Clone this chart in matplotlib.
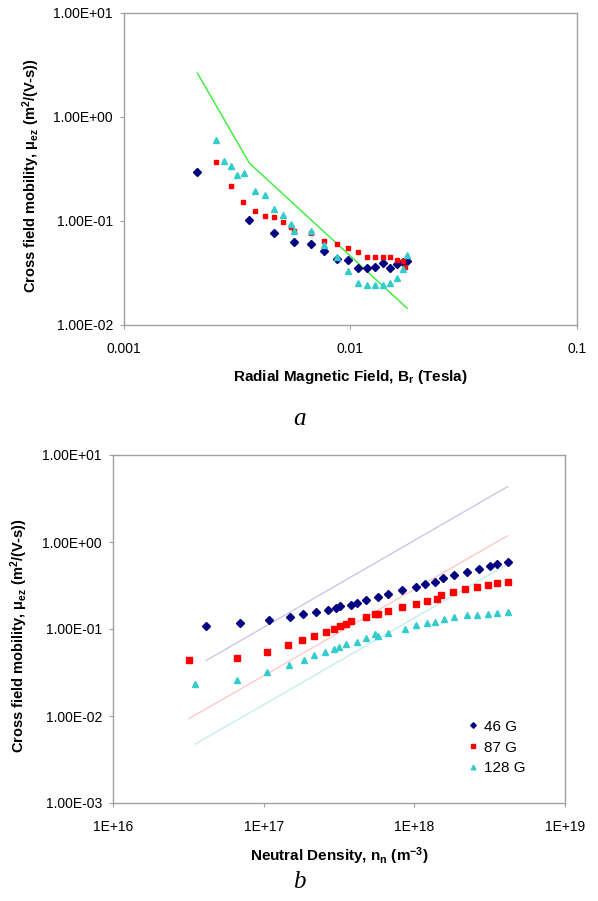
import matplotlib
matplotlib.use("Agg")
import matplotlib.pyplot as plt
from matplotlib.ticker import FixedLocator, FixedFormatter, NullLocator

plt.rcParams['font.family'] = ['Liberation Sans', 'DejaVu Sans']
plt.rcParams['mathtext.fontset'] = 'custom'
plt.rcParams['mathtext.rm'] = 'Liberation Sans'
plt.rcParams['mathtext.bf'] = 'Liberation Sans:bold'
plt.rcParams['mathtext.default'] = 'bf'

# ---------------- Panel a data ----------------
a_B_46 = [0.00211, 0.00358, 0.00461, 0.00565, 0.00668, 0.00767, 0.00874, 0.00976,
          0.0108, 0.0118, 0.0129, 0.0139, 0.0149, 0.0160, 0.0170, 0.01775]
a_mu_46 = [0.298, 0.1023, 0.0767, 0.0628, 0.0597, 0.0519, 0.0428, 0.0418,
           0.0356, 0.0351, 0.0358, 0.0395, 0.0356, 0.0387, 0.0401, 0.0412]

a_B_87 = [0.00255, 0.00296, 0.00337, 0.00379, 0.00419, 0.00461, 0.00504, 0.00544,
          0.00565, 0.00668, 0.00767, 0.00874, 0.00976, 0.0108, 0.0118, 0.0129,
          0.0139, 0.0149, 0.0160, 0.0170, 0.0175]
a_mu_87 = [0.364, 0.217, 0.152, 0.124, 0.1117, 0.109, 0.0984, 0.0881,
           0.0806, 0.0767, 0.0647, 0.0601, 0.0550, 0.0500, 0.0448, 0.0451,
           0.0451, 0.0451, 0.0422, 0.0415, 0.0364]

a_B_128 = [0.00255, 0.00277, 0.00296, 0.00317, 0.00338, 0.00380, 0.00421, 0.00461,
           0.00504, 0.00544, 0.00565, 0.00668, 0.00767, 0.00874, 0.00976, 0.0108,
           0.0118, 0.0129, 0.0139, 0.0149, 0.0160, 0.0170, 0.01775]
a_mu_128 = [0.601, 0.377, 0.338, 0.277, 0.288, 0.195, 0.177, 0.131,
            0.115, 0.0936, 0.0801, 0.0806, 0.0584, 0.0448, 0.0328, 0.0252,
            0.0240, 0.0240, 0.0244, 0.0252, 0.0285, 0.0348, 0.0468]

a_line_B = [0.00211, 0.00358, 0.01782]
a_line_mu = [2.63, 0.359, 0.01449]

# ---------------- Panel b data ----------------
b_n_46 = [4.14e16, 7.0e16, 1.08e17, 1.50e17, 1.82e17, 2.22e17, 2.66e17, 3.02e17,
          3.19e17, 3.79e17, 4.16e17, 4.80e17, 5.76e17, 6.71e17, 8.31e17, 1.03e18,
          1.18e18, 1.38e18, 1.54e18, 1.82e18, 2.23e18, 2.70e18, 3.16e18, 3.52e18, 4.16e18]
b_mu_46 = [0.109, 0.117, 0.128, 0.137, 0.147, 0.156, 0.166, 0.176,
           0.184, 0.190, 0.199, 0.217, 0.233, 0.251, 0.279, 0.304,
           0.327, 0.350, 0.386, 0.421, 0.456, 0.490, 0.526, 0.555, 0.594]

b_n_87 = [3.19e16, 6.68e16, 1.05e17, 1.44e17, 1.79e17, 2.17e17, 2.58e17, 2.94e17,
          3.19e17, 3.51e17, 3.81e17, 4.80e17, 5.45e17, 5.76e17, 6.71e17, 8.31e17,
          1.03e18, 1.21e18, 1.41e18, 1.50e18, 1.80e18, 2.17e18, 2.59e18, 3.06e18,
          3.52e18, 4.16e18]
b_mu_87 = [0.0436, 0.0461, 0.0548, 0.0650, 0.0742, 0.0838, 0.0917, 0.100,
           0.108, 0.115, 0.123, 0.136, 0.149, 0.149, 0.161, 0.180,
           0.195, 0.210, 0.223, 0.244, 0.264, 0.286, 0.306, 0.323,
           0.338, 0.350]

b_n_128 = [3.52e16, 6.68e16, 1.05e17, 1.47e17, 1.85e17, 2.17e17, 2.55e17, 2.92e17,
           3.18e17, 3.52e17, 4.16e17, 4.81e17, 5.45e17, 5.76e17, 6.71e17, 8.63e17,
           1.03e18, 1.21e18, 1.38e18, 1.57e18, 1.82e18, 2.23e18, 2.59e18, 3.06e18,
           3.52e18, 4.16e18]
b_mu_128 = [0.0235, 0.0259, 0.0323, 0.0389, 0.0441, 0.0499, 0.0545, 0.0585,
            0.0621, 0.0667, 0.0703, 0.0783, 0.0865, 0.0820, 0.0906, 0.100,
            0.110, 0.116, 0.120, 0.130, 0.138, 0.144, 0.146, 0.149,
            0.154, 0.157]

b_line_46_n = [4.14e16, 4.16e18]
b_line_46_mu = [0.0433, 4.33]
b_line_87_n = [3.19e16, 4.16e18]
b_line_87_mu = [0.00931, 1.18]
b_line_128_n = [3.52e16, 4.16e18]
b_line_128_mu = [0.00476, 0.555]

legend_labels = ["46 G", "87 G", "128 G"]

a_xticks = [0.001, 0.01, 0.1]
a_xticklabels = ["0.001", "0.01", "0.1"]
a_yticks = [0.01, 0.1, 1, 10]
a_yticklabels = ["1.00E-02", "1.00E-01", "1.00E+00", "1.00E+01"]
b_xticks = [1e16, 1e17, 1e18, 1e19]
b_xticklabels = ["1E+16", "1E+17", "1E+18", "1E+19"]
b_yticks = [1e-3, 1e-2, 1e-1, 1, 10]
b_yticklabels = ["1.00E-03", "1.00E-02", "1.00E-01", "1.00E+00", "1.00E+01"]

C_BLUE = "#000080"
C_RED = "#ff0000"
C_CYAN = "#33cccc"
C_GREEN = "#33ee33"
FRAME = "#a0a0a0"

W, H = 598, 901
fig = plt.figure(figsize=(W / 100, H / 100), dpi=100)

YLABEL = "Cross field mobility, \u03bc$_{ez}$ (m$^{2}$/(V-s))"


def style_axes(ax, xt, xtl, yt, ytl):
    ax.set_xscale('log')
    ax.set_yscale('log')
    ax.xaxis.set_major_locator(FixedLocator(xt))
    ax.xaxis.set_major_formatter(FixedFormatter(xtl))
    ax.yaxis.set_major_locator(FixedLocator(yt))
    ax.yaxis.set_major_formatter(FixedFormatter(ytl))
    ax.xaxis.set_minor_locator(NullLocator())
    ax.yaxis.set_minor_locator(NullLocator())
    for s in ax.spines.values():
        s.set_color(FRAME)
        s.set_linewidth(1.0)
    ax.tick_params(axis='both', which='major', direction='out', length=3,
                   width=0.8, color=FRAME, labelsize=10)
    ax.tick_params(axis='x', pad=9)
    ax.tick_params(axis='y', pad=5)


# ---------- Panel a ----------
h1 = 312.3
ax1 = fig.add_axes([124 / W, 1 - 325 / H, 452.7 / W, h1 / H])
ax1.plot(a_line_B, a_line_mu, color=C_GREEN, lw=1.0, zorder=2)
ax1.plot(a_B_46, a_mu_46, ls='none', marker='D', ms=3.6, color=C_BLUE, mec=C_BLUE, zorder=3)
ax1.plot(a_B_87, a_mu_87, ls='none', marker='s', ms=3.4, color=C_RED, mec=C_RED, zorder=3)
ax1.plot(a_B_128, a_mu_128, ls='none', marker='^', ms=3.8, color=C_CYAN, mec=C_CYAN, zorder=3)
ax1.set_xlim(0.001, 0.1)
ax1.set_ylim(0.01, 10)
style_axes(ax1, a_xticks, a_xticklabels, a_yticks, a_yticklabels)
ax1.set_xlabel("Radial Magnetic Field, B$_{r}$ (Tesla)", fontsize=11, fontweight='bold')
ax1.xaxis.set_label_coords(0.5, -43 / h1)
ax1.set_ylabel(YLABEL, fontsize=10.5, fontweight='bold')
ax1.yaxis.set_label_coords(-82 / 452.7, 0.48)

fig.text(299 / W, 1 - 419 / H, "a", fontsize=18, style='italic',
         family=['Liberation Serif', 'DejaVu Serif'], ha='center', va='center')

# ---------- Panel b ----------
h2 = 348
ax2 = fig.add_axes([113 / W, 1 - 803 / H, 452 / W, h2 / H])
ax2.plot(b_line_46_n, b_line_46_mu, color="#c8c8e6", lw=1.0, zorder=2)
ax2.plot(b_line_87_n, b_line_87_mu, color="#ffc8c8", lw=1.0, zorder=2)
ax2.plot(b_line_128_n, b_line_128_mu, color="#c4eeee", lw=1.0, zorder=2)
ax2.plot(b_n_46, b_mu_46, ls='none', marker='D', ms=4.0, color=C_BLUE, mec=C_BLUE,
         zorder=3, label=legend_labels[0])
ax2.plot(b_n_87, b_mu_87, ls='none', marker='s', ms=4.8, color=C_RED, mec=C_RED,
         zorder=3, label=legend_labels[1])
ax2.plot(b_n_128, b_mu_128, ls='none', marker='^', ms=4.8, color=C_CYAN, mec=C_CYAN,
         zorder=3, label=legend_labels[2])
ax2.set_xlim(1e16, 1e19)
ax2.set_ylim(1e-3, 10)
style_axes(ax2, b_xticks, b_xticklabels, b_yticks, b_yticklabels)
ax2.set_xlabel("Neutral Density, n$_{n}$ (m$^{-3}$)", fontsize=11, fontweight='bold')
ax2.xaxis.set_label_coords(0.5, -42 / h2)
ax2.set_ylabel(YLABEL, fontsize=10.5, fontweight='bold')
ax2.yaxis.set_label_coords(-83 / 452, 0.48)
leg = ax2.legend(loc='upper left', bbox_to_anchor=(0.76, 0.27), frameon=False,
                 fontsize=11, handlelength=0.7, handletextpad=0.4, markerscale=0.7,
                 labelspacing=0.45, borderpad=0.2)

fig.text(299 / W, 1 - 882 / H, "b", fontsize=18, style='italic',
         family=['Liberation Serif', 'DejaVu Serif'], ha='center', va='center')

fig.savefig("out.png", dpi=100)
